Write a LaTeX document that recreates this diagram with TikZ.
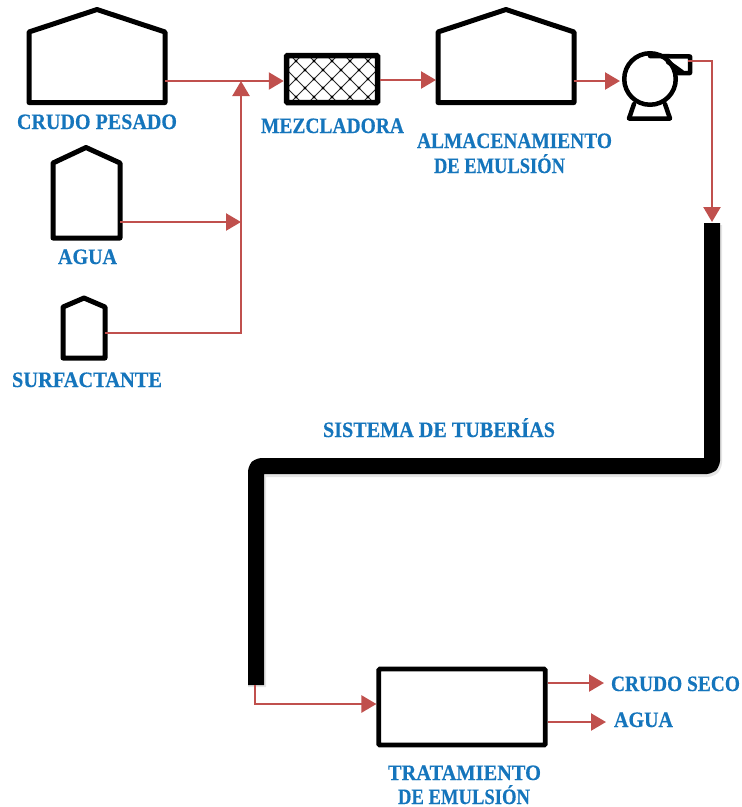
\documentclass[tikz,border=0pt]{standalone}
\usepackage{fontspec}
\usepackage{graphicx}
\setmainfont{Liberation Serif}[BoldFeatures={FakeBold=0.4}]
\usetikzlibrary{arrows.meta,calc}
\definecolor{flow}{HTML}{C0504D}
\definecolor{lab}{HTML}{1575BC}
\newcommand{\fitw}[2]{\resizebox{#1pt}{\height}{#2}}
\tikzset{
  vessel/.style={draw=black,line width=5pt,line join=round,fill=white},
  flowline/.style={draw=flow,line width=2.4pt,-{Triangle[length=15pt,width=17pt]},line join=miter},
  lbl/.style={text=lab,font=\fontsize{22pt}{24pt}\selectfont\bfseries,inner sep=0pt,anchor=base},
  pipe/.style={draw=black,line width=16pt,line join=round,rounded corners=5pt},
  pipeshadow/.style={draw=black,opacity=.10,line width=18pt,line join=round,rounded corners=5pt},
  pumpline/.style={draw=black,line width=4.5pt,line join=round,line cap=round},
  boxnode/.style={draw=black,line width=4.6pt,fill=white,rounded corners=1pt,inner sep=0pt},
  mixnode/.style={draw=black,line width=5.5pt,rounded corners=1pt,inner sep=0pt},
  lattice/.style={draw=black!85,line width=.9pt},
}
\begin{document}
\begin{tikzpicture}[x=1pt,y=-1pt]
\useasboundingbox (0,0) rectangle (742,807);
% tanks
\draw[vessel] (29,102.5) -- (29,32) -- (97,9.5) -- (165,32) -- (165,102.5) -- cycle;
\draw[vessel] (53,238) -- (53,163) -- (86,147.5) -- (120,163) -- (120,238) -- cycle;
\draw[vessel] (63,358) -- (63,307) -- (84,298) -- (105,307) -- (105,358) -- cycle;
\draw[vessel] (438,102.5) -- (438,32) -- (506,9.5) -- (574,32) -- (574,102.5) -- cycle;
\coordinate (t1out) at (165,81);
\coordinate (t2out) at (120,222);
\coordinate (t3out) at (105,333);
\coordinate (t4in) at (436,80);
\coordinate (t4out) at (574,81);
% mixer
\begin{scope}
\clip (287,56) rectangle (377,102);
\foreach \i in {-6,...,6}{
  \draw[lattice] (332+\i*18-40,79-40) -- ++(80,80);
  \draw[lattice] (332+\i*18+40,79-40) -- ++(-80,80);
}
\foreach \i in {-3,...,3}{\foreach \j in {-2,...,2}{
  \fill[black] (332+\i*18,79+\j*18) circle (1.6pt);
  \fill[black] (332+9+\i*18,79+9+\j*18) circle (1.6pt);
}}
\end{scope}
\node[mixnode,minimum width=91pt,minimum height=47pt] (mix) at (332,79) {};
% pump
\node[circle,draw=black,line width=4.5pt,minimum size=51.5pt,inner sep=0pt] (pump) at (650,79) {};
\draw[pumpline] (650,56) -- (690,56.5) -- (690,73) -- (676,73);
\draw[pumpline] (668,62) -- (682,72);
\draw[pumpline] (634,104) -- (629,118.5) -- (670,118.5) -- (665,104);
\coordinate (pout) at (688,61);
% pipe
\coordinate (p1) at (712,223);
\coordinate (p2) at (712,466);
\coordinate (p3) at (256,466);
\coordinate (p4) at (256,685);
\draw[pipeshadow] ($(p1)+(1,2)$) -- ($(p2)+(1,2)$) -- ($(p3)+(1,2)$) -- ($(p4)+(1,2)$);
\draw[pipe] (p1) -- (p2) -- (p3) -- (p4);
% treatment
\node[boxnode,minimum width=166.5pt,minimum height=76pt] (box) at (462,707) {};
% connectors
\coordinate (j1) at (241,81);
\coordinate (j2) at (241,222);
\coordinate (j3) at (241,333);
\coordinate (p5) at (255,685);
\coordinate (p6) at (255,704);
\coordinate (p7) at (712,61);
\draw[flowline] (t1out) -- (mix.west |- t1out);
\draw[flowline] (t3out) -- (j3) -- (j1);
\draw[flowline] (t2out) -- (j2);
\draw[flowline] (mix.east |- t4in) -- (t4in);
\draw[flowline] (t4out) -- (620,81);
\draw[flowline] (pout) -- (p7) -- ($(p1)+(0,-1)$);
\draw[flowline] (p5) -- (p6) -- (box.west |- p6);
\coordinate (o1) at (604,683);
\coordinate (o2) at (606,722);
\draw[flowline] (box.east |- o1) -- (o1);
\draw[flowline] (box.east |- o2) -- (o2);
% labels
\node[lbl] (a) at (97,129) {\fitw{160}{CRUDO PESADO}};
\node[lbl] (b) at (332.5,133) {\fitw{143}{MEZCLADORA}};
\node[lbl] (c) at (514.5,148) {\fitw{195}{ALMACENAMIENTO}};
\node[lbl] (d) at (499.5,173) {\fitw{131}{DE EMULSIÓN}};
\node[lbl] (e) at (87.5,264) {\fitw{59}{AGUA}};
\node[lbl] (f) at (87,387) {\fitw{150}{SURFACTANTE}};
\node[lbl] (g) at (439,437) {\fitw{232}{SISTEMA DE TUBERÍAS}};
\node[lbl] (h) at (464.5,780) {\fitw{153}{TRATAMIENTO}};
\node[lbl] (i) at (464,804) {\fitw{132}{DE EMULSIÓN}};
\node[lbl] (k) at (675.5,691) {\fitw{129}{CRUDO SECO}};
\node[lbl] (l) at (643.5,727) {\fitw{59}{AGUA}};
\end{tikzpicture}
\end{document}
